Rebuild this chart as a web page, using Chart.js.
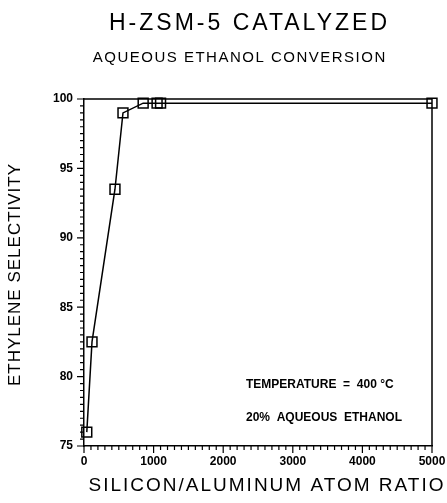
<!DOCTYPE html>
<html>
<head>
<meta charset="utf-8">
<script src="https://cdn.jsdelivr.net/npm/chart.js@4/dist/chart.umd.min.js"></script>
<style>
  html, body { margin: 0; padding: 0; background: #fff; }
  #wrap { width: 447px; height: 503px; }
</style>
</head>
<body>
<div id="wrap"><canvas id="myChart" width="447" height="503"></canvas></div>
<script>
// 데이터
const siAlRatio = [40, 115, 445, 560, 850, 1050, 1100, 5000];
const selectivity = [76.0, 82.5, 93.5, 99.0, 99.7, 99.7, 99.7, 99.7];
const xTickLabels = [0, 1000, 2000, 3000, 4000, 5000];
const yTickLabels = [75, 80, 85, 90, 95, 100];

const titleText = 'H-ZSM-5 CATALYZED';
const subtitleText = 'AQUEOUS ETHANOL CONVERSION';
const xTitle = 'SILICON/ALUMINUM ATOM RATIO';
const yTitle = 'ETHYLENE SELECTIVITY';
const notes = ['TEMPERATURE  =  400 °C', '20%  AQUEOUS  ETHANOL'];

const tickFont = { family: 'Liberation Sans', size: 12, weight: 'bold' };

// 글자 간격을 넣어서 그리기
function spacedText(ctx, text, x, y, spacing) {
  ctx.letterSpacing = spacing + 'px';
  ctx.fillText(text, x + spacing / 2, y);
  ctx.letterSpacing = '0px';
}

// 축 눈금, 테두리, 글자
const decor = {
  id: 'decor',
  afterDraw(chart) {
    const ctx = chart.ctx;
    const a = chart.chartArea;
    const xs = chart.scales.x, ys = chart.scales.y;
    ctx.save();
    ctx.strokeStyle = '#000';
    ctx.lineWidth = 1.5;
    // 위쪽, 오른쪽 테두리
    ctx.beginPath();
    ctx.moveTo(a.left, a.top);
    ctx.lineTo(a.right, a.top);
    ctx.lineTo(a.right, a.bottom);
    ctx.stroke();
    // 눈금
    ctx.lineWidth = 1.2;
    ctx.beginPath();
    for (let v = 0; v <= 5000; v += 100) {
      const p = xs.getPixelForValue(v);
      const len = v % 1000 === 0 ? 7 : 4;
      ctx.moveTo(p, a.bottom);
      ctx.lineTo(p, a.bottom + len);
    }
    for (let v = 75; v <= 100.001; v += 0.5) {
      const p = ys.getPixelForValue(v);
      const len = Math.abs(v % 5) < 0.01 ? 7 : 4;
      ctx.moveTo(a.left, p);
      ctx.lineTo(a.left - len, p);
    }
    ctx.stroke();

    ctx.fillStyle = '#000';
    ctx.textAlign = 'center';
    ctx.textBaseline = 'middle';
    ctx.font = '23px "Liberation Sans"';
    spacedText(ctx, titleText, 248, 24, 3);
    ctx.font = '15px "Liberation Sans"';
    spacedText(ctx, subtitleText, 239, 58, 1.5);
    ctx.font = '19px "Liberation Sans"';
    spacedText(ctx, xTitle, 266, 486, 2);
    ctx.save();
    ctx.translate(15, 275);
    ctx.rotate(-Math.PI / 2);
    ctx.font = '17px "Liberation Sans"';
    spacedText(ctx, yTitle, 0, 0, 1);
    ctx.restore();

    ctx.textAlign = 'left';
    ctx.font = 'bold 12px "Liberation Sans"';
    ctx.fillText(notes[0], 246, 385);
    ctx.fillText(notes[1], 246, 418);
    ctx.restore();
  }
};

const chartArea = document.getElementById('myChart').getContext('2d');
const myChart = new Chart(chartArea, {
  type: 'line',
  data: {
    datasets: [{
      data: siAlRatio.map((x, i) => ({ x: x, y: selectivity[i] })),
      borderColor: '#000',
      borderWidth: 1.5,
      backgroundColor: '#fff',
      pointStyle: 'rect',
      pointRadius: 7,
      pointBorderWidth: 1.5,
      pointBorderColor: '#000',
      pointBackgroundColor: 'rgba(255,255,255,0)',
      tension: 0,
      clip: false
    }]
  },
  options: {
    responsive: false,
    animation: false,
    events: [],
    layout: { padding: { top: 99, right: 15, left: 0, bottom: 0 } },
    plugins: { legend: { display: false }, tooltip: { enabled: false } },
    scales: {
      x: {
        type: 'linear',
        min: 0,
        max: 5000,
        afterFit(scale) { scale.height = 57; scale.paddingRight = 0; scale.paddingLeft = 0; },
        afterBuildTicks(scale) { scale.ticks = xTickLabels.map(v => ({ value: v })); },
        grid: { display: false, drawTicks: false },
        border: { display: true, color: '#000', width: 1.5 },
        ticks: { color: '#000', font: tickFont, padding: 8, maxRotation: 0, callback: v => String(v) }
      },
      y: {
        type: 'linear',
        min: 75,
        max: 100,
        afterFit(scale) { scale.width = 84; scale.paddingTop = 0; scale.paddingBottom = 0; },
        afterBuildTicks(scale) { scale.ticks = yTickLabels.map(v => ({ value: v })); },
        grid: { display: false, drawTicks: false },
        border: { display: true, color: '#000', width: 1.5 },
        ticks: { color: '#000', font: tickFont, padding: 11, callback: v => String(v) }
      }
    }
  },
  plugins: [decor]
});
</script>
</body>
</html>
